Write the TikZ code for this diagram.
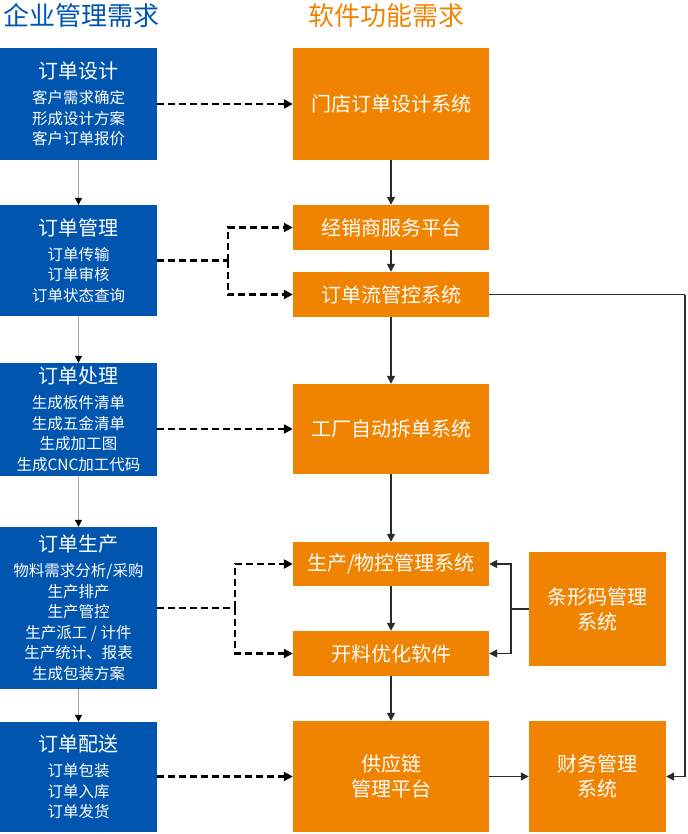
\documentclass[tikz,border=0pt]{standalone}
\usepackage{fontspec}
\setmainfont{Noto Sans CJK SC}
\usetikzlibrary{arrows.meta}
\definecolor{bblue}{HTML}{0055AF}
\definecolor{borange}{HTML}{F08300}
\definecolor{lnk}{HTML}{2B2B2B}
\newcommand{\ltitle}[1]{{\fontsize{20}{20.5}\selectfont #1}\\[4.5pt]}
\begin{document}
\begin{tikzpicture}[x=1pt,y=-1pt,
  lbox/.style={fill=bblue, text=white, inner sep=0pt, minimum width=157pt, align=center,
    font=\fontsize{15.5}{20.5}\selectfont},
  mbox/.style={fill=borange, text=white, inner sep=0pt, minimum width=196pt, align=center,
    font=\fontsize{20}{25}\selectfont},
  rbox/.style={mbox, minimum width=137pt},
  hdr/.style={inner sep=0pt, font=\fontsize{26}{28}\selectfont},
  dline/.style={draw=black, line width=2.3pt, dash pattern=on 7pt off 4pt},
  darr/.style={dline, -{Triangle[length=9pt,width=9pt]}},
  sline/.style={draw=lnk, line width=1.5pt},
  sarr/.style={sline, -{Triangle[length=8pt,width=8pt]}},
  garr/.style={draw=black!35, line width=1pt, -{Triangle[length=7pt,width=7pt,color=black]}}
]
\useasboundingbox (0,0) rectangle (687,834);

% headers
\node[hdr, text=bblue] (h1) at (81,16) {企业管理需求};
\node[hdr, text=borange] (h2) at (386,16) {软件功能需求};

% left column
\node[lbox, minimum height=112pt] (L1) at (78.5,104)
  {\ltitle{订单设计}客户需求确定\\形成设计方案\\客户订单报价};
\node[lbox, minimum height=111pt] (L2) at (78.5,260.5)
  {\ltitle{订单管理}订单传输\\订单审核\\订单状态查询};
\node[lbox, minimum height=113pt] (L3) at (78.5,419.5)
  {\ltitle{订单处理}生成板件清单\\生成五金清单\\生成加工图\\生成CNC加工代码};
\node[lbox, minimum height=162pt] (L4) at (78.5,608)
  {\ltitle{订单生产}物料需求分析/采购\\生产排产\\生产管控\\生产派工 / 计件\\生产统计、报表\\生成包装方案};
\node[lbox, minimum height=110pt] (L5) at (78.5,777)
  {\ltitle{订单配送}订单包装\\订单入库\\订单发货};

% middle column
\node[mbox, minimum height=112pt] (M1) at (391,104) {门店订单设计系统};
\node[mbox, minimum height=45pt] (M2) at (391,227.5) {经销商服务平台};
\node[mbox, minimum height=45pt] (M3) at (391,294.5) {订单流管控系统};
\node[mbox, minimum height=90pt] (M4) at (391,429) {工厂自动拆单系统};
\node[mbox, minimum height=44pt] (M5) at (391,564) {生产/物控管理系统};
\node[mbox, minimum height=45pt] (M6) at (391,653.5) {开料优化软件};
\node[mbox, minimum height=111pt] (M7) at (391,776.5) {供应链\\管理平台};

% right column
\node[rbox, minimum height=114pt] (R1) at (597.5,609) {条形码管理\\系统};
\node[rbox, minimum height=111pt] (R2) at (597.5,776.5) {财务管理\\系统};

% left column arrows
\draw[garr] (L1) -- (L2);
\draw[garr] (L2) -- (L3);
\draw[garr] (L3) -- (L4);
\draw[garr] (L4) -- (L5);

% middle column arrows
\draw[sarr] (M1) -- (M2);
\draw[sarr] (M2) -- (M3);
\draw[sarr] (M3) -- (M4);
\draw[sarr] (M4) -- (M5);
\draw[sarr] (M5) -- (M6);
\draw[sarr] (M6) -- (M7);
\draw[sarr] (M7) -- (R2);

% dashed connectors
\draw[darr] (L1.east) -- (M1.west);
\coordinate (f2) at (228,260.5);
\draw[dline] (L2.east) -- (f2);
\draw[darr] (f2) |- (M2.west);
\draw[darr] (f2) |- (M3.west);
\draw[darr] (L3.east |- M4.west) -- (M4.west);
\coordinate (f4) at (235,608);
\draw[dline] (L4.east) -- (f4);
\draw[darr] (f4) |- (M5.west);
\draw[darr] (f4) |- (M6.west);
\draw[darr] (L5.east |- M7.west) -- (M7.west);

% barcode connectors
\coordinate (rj) at (511,609);
\draw[sline] (R1.west) -- (rj);
\draw[sarr] (rj) |- (M5.east);
\draw[sarr] (rj) |- (M6.east);

% long connector to finance
\coordinate (c1) at (685,294.5);
\draw[sline] (M3.east) -- (c1);
\draw[sarr] (c1) |- (R2.east);
\end{tikzpicture}
\end{document}
